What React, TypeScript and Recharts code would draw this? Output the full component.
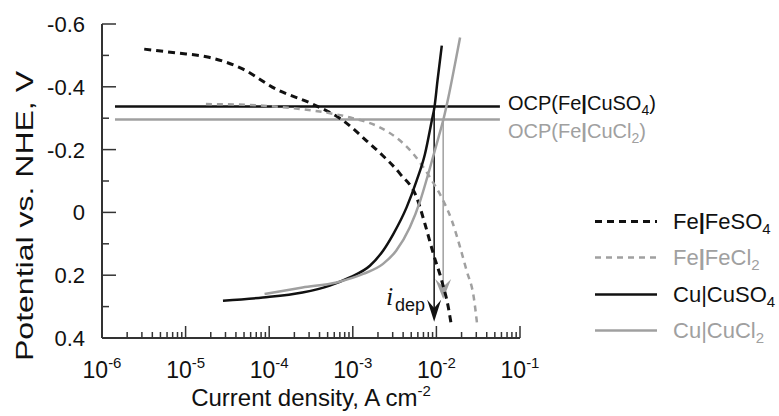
import React from "react";
import { ComposedChart, Line, XAxis, YAxis, ReferenceLine, Legend } from "recharts";

// current density (A cm-2) vs potential (V vs NHE)
const feFeSO4 = [
  { i: 3.2e-6, E: -0.52 },
  { i: 7.7e-6, E: -0.508 },
  { i: 1.9e-5, E: -0.494 },
  { i: 4.8e-5, E: -0.457 },
  { i: 1.2e-4, E: -0.393 },
  { i: 3.3e-4, E: -0.345 },
  { i: 7.7e-4, E: -0.292 },
  { i: 1.46e-3, E: -0.228 },
  { i: 2.1e-3, E: -0.19 },
  { i: 3.7e-3, E: -0.122 },
  { i: 5.8e-3, E: -0.048 },
  { i: 7.3e-3, E: 0.037 },
  { i: 9.2e-3, E: 0.132 },
  { i: 1.16e-2, E: 0.218 },
  { i: 1.39e-2, E: 0.303 },
  { i: 1.49e-2, E: 0.35 },
];

const feFeCl2 = [
  { i: 1.75e-5, E: -0.345 },
  { i: 5.9e-5, E: -0.342 },
  { i: 1.9e-4, E: -0.332 },
  { i: 4.8e-4, E: -0.318 },
  { i: 1.0e-3, E: -0.3 },
  { i: 2.1e-3, E: -0.271 },
  { i: 3.7e-3, E: -0.228 },
  { i: 5.3e-3, E: -0.186 },
  { i: 8.4e-3, E: -0.111 },
  { i: 1.21e-2, E: -0.037 },
  { i: 1.53e-2, E: 0.026 },
  { i: 1.92e-2, E: 0.111 },
  { i: 2.3e-2, E: 0.186 },
  { i: 2.8e-2, E: 0.271 },
  { i: 3.1e-2, E: 0.366 },
];

const cuCuSO4 = [
  { i: 2.8e-5, E: 0.281 },
  { i: 8.4e-5, E: 0.271 },
  { i: 2.5e-4, E: 0.255 },
  { i: 5.3e-4, E: 0.233 },
  { i: 9.2e-4, E: 0.207 },
  { i: 1.6e-3, E: 0.17 },
  { i: 2.3e-3, E: 0.122 },
  { i: 3.05e-3, E: 0.069 },
  { i: 4.4e-3, E: -0.016 },
  { i: 5.8e-3, E: -0.101 },
  { i: 7.3e-3, E: -0.186 },
  { i: 8.8e-3, E: -0.292 },
  { i: 9.5e-3, E: -0.337 },
  { i: 1.03e-2, E: -0.419 },
  { i: 1.16e-2, E: -0.531 },
];

const cuCuCl2 = [
  { i: 8.8e-5, E: 0.26 },
  { i: 2.5e-4, E: 0.239 },
  { i: 6.4e-4, E: 0.223 },
  { i: 1.33e-3, E: 0.196 },
  { i: 2.3e-3, E: 0.164 },
  { i: 3.3e-3, E: 0.122 },
  { i: 4.8e-3, E: 0.048 },
  { i: 6.4e-3, E: -0.037 },
  { i: 8.4e-3, E: -0.143 },
  { i: 1.06e-2, E: -0.239 },
  { i: 1.21e-2, E: -0.295 },
  { i: 1.39e-2, E: -0.366 },
  { i: 1.67e-2, E: -0.473 },
  { i: 1.92e-2, E: -0.557 },
];

// open circuit potentials and deposition current markers
const ocpCuSO4 = -0.337;
const ocpCuCl2 = -0.296;
const ocpSpan = [1.43e-6, 0.0575];
const depCuSO4 = { i: 0.0094, from: -0.337, to: 0.348 };
const depCuCl2 = { i: 0.01205, from: -0.296, to: 0.276 };

const xDecades = [1e-6, 1e-5, 1e-4, 1e-3, 1e-2, 1e-1];
const xDecadeLabels = ["-6", "-5", "-4", "-3", "-2", "-1"];
const xMinorSteps = [2, 3, 4, 5, 6, 7, 8, 9];
const yTicks = [-0.6, -0.5, -0.4, -0.3, -0.2, -0.1, 0, 0.1, 0.2, 0.3, 0.4];
const yTickLabels: Record<string, string> = {
  "-0.6": "-0.6",
  "-0.4": "-0.4",
  "-0.2": "-0.2",
  "0": "0",
  "0.2": "0.2",
  "0.4": "0.4",
};

const xTicks = xDecades.flatMap((d, k) =>
  k < xDecades.length - 1 ? [d, ...xMinorSteps.map((m) => m * d)] : [d]
);

const FONT = '"Liberation Sans", Arial, Helvetica, sans-serif';
const BLACK = "#111";
const GREY = "#a0a0a0";
const AXIS = "#333";

const series = [
  { key: "feSO4", name: "FeSO", sub: "4", left: "Fe", boldBar: true, data: feFeSO4, color: BLACK, dash: "7 5", width: 3 },
  { key: "feCl2", name: "FeCl", sub: "2", left: "Fe", boldBar: true, data: feFeCl2, color: GREY, dash: "6 5", width: 2.5 },
  { key: "cuSO4", name: "CuSO", sub: "4", left: "Cu", boldBar: false, data: cuCuSO4, color: BLACK, dash: undefined, width: 2.5 },
  { key: "cuCl2", name: "CuCl", sub: "2", left: "Cu", boldBar: false, data: cuCuCl2, color: GREY, dash: undefined, width: 2.5 },
];

function XTick(props: any) {
  const { x, y, payload } = props;
  const idx = xDecades.findIndex((d) => Math.abs(d - payload.value) / d < 1e-6);
  const major = idx >= 0;
  return (
    <g>
      <line x1={x} y1={y} x2={x} y2={y - (major ? 12 : 6)} stroke={AXIS} strokeWidth={1.5} />
      {major && (
        <text x={x} y={y + 40} textAnchor="middle" fontFamily={FONT} fontSize={23} fill="#111">
          10
          <tspan dy={-10} fontSize={15}>
            {xDecadeLabels[idx]}
          </tspan>
        </text>
      )}
    </g>
  );
}

function YTick(props: any) {
  const { x, y, payload } = props;
  const label = yTickLabels[String(payload.value)];
  return (
    <g>
      <line x1={x} y1={y} x2={x + (label ? 14 : 7)} y2={y} stroke={AXIS} strokeWidth={1.5} />
      {label && (
        <text x={x - 17} y={y + 8} textAnchor="end" fontFamily={FONT} fontSize={22} fill="#111">
          {label}
        </text>
      )}
    </g>
  );
}

function DepArrow(props: any) {
  const { x1, y1, x2, y2, stroke, w, h } = props;
  return (
    <g>
      <line x1={x1} y1={y1} x2={x2} y2={y2 - h * 0.5} stroke={stroke} strokeWidth={1.5} />
      <polygon
        points={`${x2},${y2} ${x2 - w},${y2 - h} ${x2},${y2 - h * 0.62} ${x2 + w},${y2 - h}`}
        fill={stroke}
      />
    </g>
  );
}

function LegendBox() {
  return (
    <svg width={189} height={140}>
      {series.map((s, k) => {
        const base = [24, 60, 97, 133][k];
        return (
          <g key={s.key}>
            <line x1={5} x2={67} y1={base - 7.5} y2={base - 7.5} stroke={s.color} strokeWidth={s.width} strokeDasharray={s.dash} />
            <text x={83} y={base} fontFamily={FONT} fontSize={22} fill={s.color}>
              {s.left}
              <tspan fontWeight={s.boldBar ? "bold" : "normal"}>|</tspan>
              {s.name}
              <tspan dy={5} fontSize={15}>
                {s.sub}
              </tspan>
            </text>
          </g>
        );
      })}
    </svg>
  );
}

export default function App() {
  return (
    <div style={{ position: "absolute", left: 0, top: 0, width: 779, height: 416, background: "#fff" }}>
      <ComposedChart width={779} height={416} margin={{ top: 24, right: 259, bottom: 0, left: 0 }}>
        <XAxis
          dataKey="i"
          type="number"
          scale="log"
          domain={[1e-6, 1e-1]}
          ticks={xTicks}
          interval={0}
          allowDataOverflow
          height={78}
          tickSize={0}
          tickMargin={0}
          axisLine={{ stroke: AXIS, strokeWidth: 2 }}
          tickLine={false}
          tick={(p: any) => <XTick {...p} />}
        />
        <YAxis
          type="number"
          domain={[-0.6, 0.4]}
          reversed
          ticks={yTicks}
          interval={0}
          allowDataOverflow
          width={102}
          tickSize={0}
          tickMargin={0}
          axisLine={{ stroke: AXIS, strokeWidth: 2 }}
          tickLine={false}
          tick={(p: any) => <YTick {...p} />}
        />
        <ReferenceLine
          segment={[{ x: ocpSpan[0], y: ocpCuSO4 }, { x: ocpSpan[1], y: ocpCuSO4 }]}
          stroke={BLACK}
          strokeWidth={2.5}
          ifOverflow="visible"
        />
        <ReferenceLine
          segment={[{ x: ocpSpan[0], y: ocpCuCl2 }, { x: ocpSpan[1], y: ocpCuCl2 }]}
          stroke={GREY}
          strokeWidth={2.5}
          ifOverflow="visible"
        />
        <ReferenceLine
          segment={[{ x: depCuCl2.i, y: depCuCl2.from }, { x: depCuCl2.i, y: depCuCl2.to }]}
          stroke={GREY}
          ifOverflow="visible"
          shape={(p: any) => <DepArrow {...p} stroke={GREY} w={8} h={20} />}
        />
        <ReferenceLine
          segment={[{ x: depCuSO4.i, y: depCuSO4.from }, { x: depCuSO4.i, y: depCuSO4.to }]}
          stroke={BLACK}
          ifOverflow="visible"
          shape={(p: any) => <DepArrow {...p} stroke={BLACK} w={7} h={22} />}
        />
        {series.map((s) => (
          <Line
            key={s.key}
            data={s.data}
            dataKey="E"
            name={s.key}
            type="monotone"
            stroke={s.color}
            strokeWidth={s.width}
            strokeDasharray={s.dash}
            dot={false}
            activeDot={false}
            isAnimationActive={false}
          />
        ))}
        <Legend
          layout="vertical"
          align="center"
          verticalAlign="middle"
          wrapperStyle={{ left: 590, top: 205, width: 189, height: 140 }}
          content={() => <LegendBox />}
        />
      </ComposedChart>
      <svg width={779} height={416} style={{ position: "absolute", left: 0, top: 0, pointerEvents: "none" }}>
        <text
          transform="translate(33,216) rotate(-90)"
          textAnchor="middle"
          fontFamily={FONT}
          fontSize={24}
          textLength={290}
          lengthAdjust="spacingAndGlyphs"
          fill="#111"
        >
          Potential vs. NHE, V
        </text>
        <text x={311} y={406} textAnchor="middle" fontFamily={FONT} fontSize={24} fill="#111">
          Current density, A cm
          <tspan dy={-10} fontSize={15}>
            -2
          </tspan>
        </text>
        <text x={508} y={110} fontFamily={FONT} fontSize={20} fill={BLACK}>
          OCP(Fe<tspan fontWeight="bold">|</tspan>CuSO
          <tspan dy={5} fontSize={14}>4</tspan>
          <tspan dy={-5}>)</tspan>
        </text>
        <text x={508} y={138} fontFamily={FONT} fontSize={20} fill={GREY}>
          OCP(Fe<tspan fontWeight="bold">|</tspan>CuCl
          <tspan dy={5} fontSize={14}>2</tspan>
          <tspan dy={-5}>)</tspan>
        </text>
        <text x={386} y={305} fontFamily='"Liberation Serif", "Times New Roman", serif' fontStyle="italic" fontSize={26} fill="#111">
          i
        </text>
        <text x={395} y={311} fontFamily={FONT} fontSize={18} fill="#111">
          dep
        </text>
      </svg>
    </div>
  );
}
